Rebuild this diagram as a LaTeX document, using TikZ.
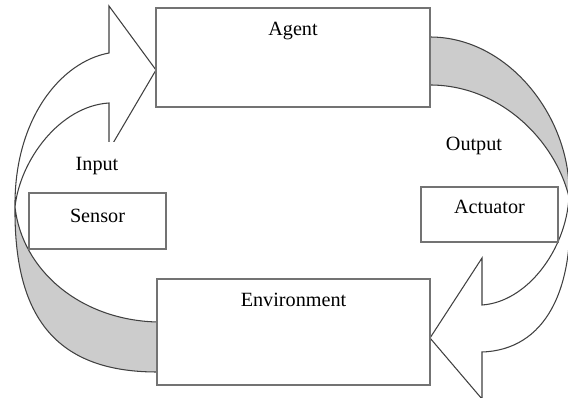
\documentclass[tikz,border=0pt]{standalone}
\usepackage{fontspec}
\setmainfont{Liberation Serif}
\usetikzlibrary{calc}
\tikzset{
    box/.style={rectangle,draw=black!55,line width=1pt,fill=white,inner sep=0pt},
    box label/.style={anchor=base,inner sep=0pt},
    flow outline/.style={draw=black!75,line width=.6pt},
    flow front/.style={flow outline,fill=white},
    flow back/.style={flow outline,fill=black!20},
    flow label/.style={anchor=base,fill=white,inner xsep=4pt,inner ysep=9pt},
}
\tikzstyle{every node}=[font=\fontsize{11.5}{14}\selectfont]

\begin{document}
\begin{tikzpicture}[x=0.02cm,y=-0.02cm]
    \useasboundingbox (0,0) rectangle (568,398);
    \clip (0,0) rectangle (568,398);

    % input arrow
    \coordinate (P1) at (15,207);
    \path[flow back] (157,372) .. controls (50,372) and (14,310) .. (P1)
        .. controls (22,270) and (80,320) .. (157,322) -- cycle;
    \path[flow front] (P1) .. controls (14,120) and (60,62) .. (109,53)
        -- (109,6) -- (156,70) -- (109,150) -- (109,103)
        .. controls (60,106) and (20,160) .. (P1) -- cycle;

    % output arrow
    \coordinate (P2) at (569,197);
    \path[flow back] (430,37) .. controls (510,37) and (572,120) .. (P2)
        .. controls (555,140) and (500,85) .. (430,85) -- cycle;
    \path[flow front] (P2) .. controls (576,290) and (545,350) .. (482,352)
        -- (482,399) -- (430,338) -- (482,258) -- (482,305)
        .. controls (527,302) and (566,250) .. (P2) -- cycle;

    \node[flow label] (input) at (97,171) {Input};
    \node[flow label] (output) at (474,151) {Output};

    \node[box,minimum width=5.48cm,minimum height=1.98cm] (agent) at (293,57.5) {};
    \node[box,minimum width=5.46cm,minimum height=2.12cm] (environment) at (293.5,332) {};
    \node[box,minimum width=2.74cm,minimum height=1.12cm] (sensor) at (97.5,221) {};
    \node[box,minimum width=2.74cm,minimum height=1.1cm] (actuator) at (489.5,214.5) {};

    \node[box label] (agentlabel) at ($(agent.north)+(0,28)$) {Agent};
    \node[box label] (environmentlabel) at ($(environment.north)+(0,28)$) {Environment};
    \node[box label] (sensorlabel) at ($(sensor.north)+(0,30)$) {Sensor};
    \node[box label] (actuatorlabel) at ($(actuator.north)+(0,27)$) {Actuator};
\end{tikzpicture}
\end{document}
